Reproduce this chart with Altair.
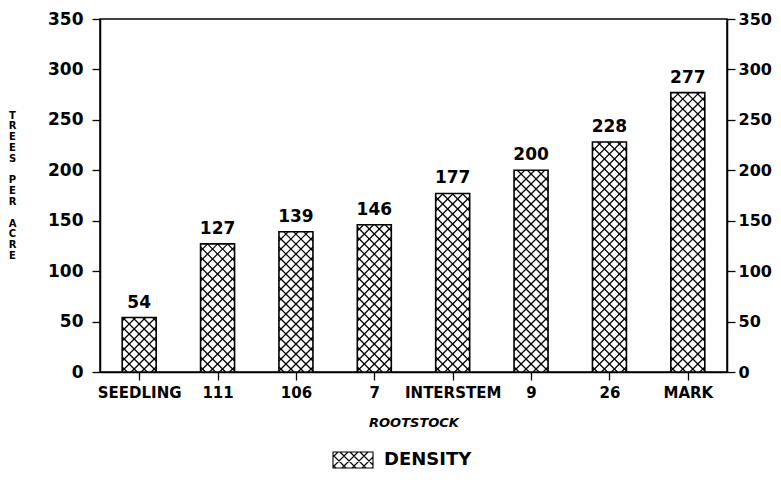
import json
import altair as alt
import pandas as pd

# ---- data ----
categories = ["SEEDLING", "111", "106", "7", "INTERSTEM", "9", "26", "MARK"]
values = [54, 127, 139, 146, 177, 200, 228, 277]
series_name = "DENSITY"
y_ticks = [0, 50, 100, 150, 200, 250, 300, 350]

# ---- style constants ----
W, H = 627, 353
XS = W / len(categories)      # px per x unit
YS = H / 350                  # px per y unit
BAR_HALF = 17                 # half bar width in px
HATCH = 10                    # hatch spacing in px
FONT = "DejaVu Sans"

df = pd.DataFrame({
    "cat": categories,
    "idx": list(range(len(categories))),
    "value": values,
    "series": [series_name] * len(categories),
})

base = alt.Chart(df).transform_calculate(
    xc="datum.idx + 0.5",
    xl=f"datum.idx + 0.5 - {BAR_HALF}/{XS}",
    xr=f"datum.idx + 0.5 + {BAR_HALF}/{XS}",
)

xscale = alt.Scale(domain=[0, len(categories)], nice=False, zero=False)
label_expr = json.dumps(categories).replace('"', "'") + "[floor(datum.value)]"

x_axis = alt.Axis(
    values=[i + 0.5 for i in range(len(categories))],
    labelExpr=label_expr,
    title="ROOTSTOCK",
    titleFont=FONT, titleFontSize=13, titleFontWeight="bold", titleFontStyle="italic",
    titleColor="black", titleY=50, titleBaseline="middle",
    labelFont=FONT, labelFontSize=15, labelFontWeight="bold", labelColor="black",
    labelPadding=5, labelAngle=0,
    tickSize=8, tickColor="black", tickWidth=1.3,
    domainColor="black", domainWidth=1.5, grid=False,
)

BLANK = "\u2800"   # blank glyph keeps an empty line between words
title_letters = list("TREES") + [BLANK] + list("PER") + [BLANK] + list("ACRE")

y_left = alt.Axis(
    values=y_ticks, grid=False,
    title=title_letters, titleAngle=0, titleX=-88, titleY=91,
    titleAlign="center", titleBaseline="top",
    titleFont=FONT, titleFontSize=10, titleFontWeight="bold", titleColor="black",
    titleLineHeight=10.8,
    labelFont=FONT, labelFontSize=17, labelFontWeight="bold", labelColor="black",
    labelPadding=9, tickSize=8, tickColor="black", tickWidth=1.3,
    domainColor="black", domainWidth=1.5,
)
y_right = alt.Axis(
    values=y_ticks, grid=False, orient="right", title=None,
    labelFont=FONT, labelFontSize=16, labelFontWeight="bold", labelColor="black",
    labelPadding=3, tickSize=8, tickColor="black", tickWidth=1.3,
    domainColor="black", domainWidth=1.5,
)
yscale = alt.Scale(domain=[0, 350], nice=False)

# white bar body
bars = base.mark_rect(fill="white").encode(
    x=alt.X("xl:Q", scale=xscale, axis=x_axis),
    x2="xr:Q",
    y=alt.Y("value:Q", scale=yscale, axis=y_left),
    y2=alt.datum(0),
)

# cross-hatch drawn through the scales from each bar's value
w = 2 * BAR_HALF
hatch = alt.Chart(df).transform_calculate(
    hp=f"datum.value * {YS}",
    k="sequence(0, 40)",
).transform_flatten(["k"]).transform_calculate(
    f="[0, 1]"
).transform_flatten(["f"]).transform_calculate(
    c=f"datum.f == 0 ? ({w} - (datum.k + 0.5) * {HATCH}) : ((datum.k + 0.5) * {HATCH})"
).transform_filter(
    f"datum.f == 0 ? (datum.c > -datum.hp) : (datum.c < {w} + datum.hp)"
).transform_calculate(
    ya=f"datum.f == 0 ? max(0, -datum.c) : max(0, datum.c - {w})",
    yb=f"datum.f == 0 ? min(datum.hp, {w} - datum.c) : min(datum.hp, datum.c)",
).transform_calculate(
    xa="datum.f == 0 ? datum.ya + datum.c : datum.c - datum.ya",
    xb="datum.f == 0 ? datum.yb + datum.c : datum.c - datum.yb",
).transform_calculate(
    X1=f"datum.idx + 0.5 + (datum.xa - {BAR_HALF}) / {XS}",
    X2=f"datum.idx + 0.5 + (datum.xb - {BAR_HALF}) / {XS}",
    Y1=f"datum.ya / {YS}",
    Y2=f"datum.yb / {YS}",
).mark_rule(color="black", strokeWidth=1.2).encode(
    x=alt.X("X1:Q", scale=xscale, axis=x_axis),
    x2="X2:Q",
    y=alt.Y("Y1:Q", scale=yscale, axis=None),
    y2="Y2:Q",
)

# legend swatch path (40x16 px rectangle with cross-hatch) in symbol units
r = 20.0
hh = 8 / r
d = HATCH / r
segs = [f"M-1,{-hh}H1V{hh}H-1Z"]
t = 0.5 * d
while t < 2 + 2 * hh:
    cA = 1 - t          # x - y = cA
    y0, y1 = max(-hh, -1 - cA), min(hh, 1 - cA)
    if y1 > y0:
        segs.append(f"M{y0 + cA:.3f},{y0:.3f}L{y1 + cA:.3f},{y1:.3f}")
    cB = -1 - hh + t    # x + y = cB
    y0, y1 = max(-hh, cB - 1), min(hh, cB + 1)
    if y1 > y0:
        segs.append(f"M{cB - y0:.3f},{y0:.3f}L{cB - y1:.3f},{y1:.3f}")
    t += d
swatch = "".join(segs)

outline = base.mark_rect(fill="white", fillOpacity=0, strokeWidth=1.6).encode(
    x=alt.X("xl:Q", scale=xscale, axis=x_axis),
    x2="xr:Q",
    y=alt.Y("value:Q", scale=yscale, axis=None),
    y2=alt.datum(0),
    stroke=alt.Stroke(
        "series:N", scale=alt.Scale(range=["black"]),
        legend=alt.Legend(
            title=None, orient="none", legendX=232, legendY=420,
            symbolType=swatch, symbolSize=1600, symbolStrokeWidth=1.1,
            symbolFillColor="white", symbolStrokeColor="black",
            labelFont=FONT, labelFontSize=18, labelFontWeight="bold",
            labelColor="black", labelOffset=10, padding=0,
        ),
    ),
)

labels = base.mark_text(
    baseline="bottom", dy=-6, font=FONT, fontSize=17, fontWeight="bold", color="black"
).encode(
    x=alt.X("xc:Q", scale=xscale, axis=x_axis),
    y=alt.Y("value:Q", scale=yscale, axis=y_right),
    text=alt.Text("value:Q"),
)

chart = alt.layer(bars, hatch, outline, labels).resolve_scale(
    y="independent"
).properties(
    width=W, height=H,
    autosize=alt.AutoSizeParams(type="none"),
    padding={"left": 92, "top": 11, "right": 46, "bottom": 100},
    background="white",
).configure_view(stroke="black", strokeWidth=1.5)

chart.save("out.html", embed_options={"renderer": "svg", "actions": False})
